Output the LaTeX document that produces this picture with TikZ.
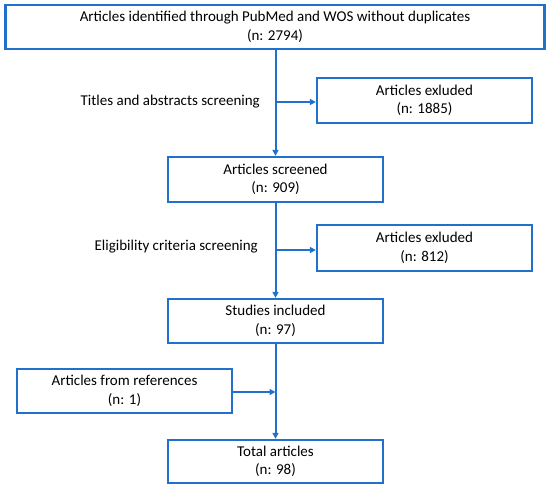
\documentclass[tikz,border=0pt]{standalone}
\usepackage{fontspec}
\setmainfont{Carlito}
\usetikzlibrary{arrows.meta}
\definecolor{flowblue}{RGB}{32,112,204}
\begin{document}
\begin{tikzpicture}[x=1pt,y=-1pt,
  box/.style={draw=flowblue,line width=2.3pt,align=center,inner sep=0pt,
    font=\fontsize{15}{18.5}\selectfont,text=black},
  conn/.style={draw=flowblue,line width=2pt,-{Triangle[length=6pt,width=6pt]}},
  lbl/.style={font=\fontsize{15}{18.5}\selectfont,text=black,anchor=east,inner sep=0pt}]
\useasboundingbox (0,0) rectangle (550,493);
\node[box,minimum width=539pt,minimum height=44pt] (top) at (275,27)
  {Articles identified through PubMed and WOS without duplicates\\(n: 2794)};
\node[box,minimum width=215pt,minimum height=45pt] (exc1) at (424.5,100.5)
  {Articles exluded\\(n: 1885)};
\node[box,minimum width=215pt,minimum height=45pt] (scr) at (275.5,179.5)
  {Articles screened\\(n: 909)};
\node[box,minimum width=215pt,minimum height=46pt] (exc2) at (424.5,248)
  {Articles exluded\\(n: 812)};
\node[box,minimum width=215pt,minimum height=44pt] (inc) at (275.5,321)
  {Studies included\\(n: 97)};
\node[box,minimum width=215pt,minimum height=44pt] (ref) at (124.5,391)
  {Articles from references\\(n: 1)};
\node[box,minimum width=215pt,minimum height=43pt] (tot) at (275.5,461.5)
  {Total articles\\(n: 98)};
\coordinate (j1) at (275.5,102);
\coordinate (j2) at (275.5,250);
\coordinate (j3) at (275.5,392);
\node[lbl] (l1) at (260,102) {Titles and abstracts screening};
\node[lbl] (l2) at (258,247) {Eligibility criteria screening};
\draw[conn] (scr.north |- top.south) -- (scr.north);
\draw[conn] (j1) -- (exc1.west |- j1);
\draw[conn] (scr.south) -- (inc.north);
\draw[conn] (j2) -- (exc2.west |- j2);
\draw[conn] (inc.south) -- (tot.north);
\draw[conn] (ref.east |- j3) -- (j3);
\end{tikzpicture}
\end{document}
